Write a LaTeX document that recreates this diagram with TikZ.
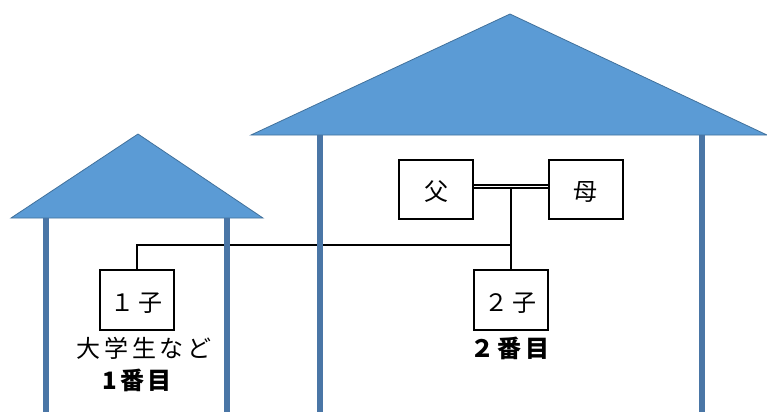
\documentclass[tikz,border=0pt]{standalone}
\usepackage{fontspec}
\setmainfont[LetterSpace=15]{Noto Sans CJK JP}
\usetikzlibrary{positioning}
\definecolor{roofblue}{HTML}{5B9BD5}
\definecolor{roofedge}{HTML}{41719C}
\definecolor{postblue}{HTML}{4A76A6}
\tikzset{person/.style = {draw, line width=1.5pt, minimum width=55.5pt, minimum height=44.5pt, inner sep=0pt, text height=18.5pt, text depth=1.4pt, font=\fontsize{18pt}{20pt}\selectfont}}
\tikzset{caption/.style = {inner sep=0pt, font=\fontsize{18pt}{20pt}\selectfont}}
\tikzset{rank/.style = {inner sep=0pt, font=\fontsize{18pt}{20pt}\selectfont\bfseries}}
\tikzset{roof/.style = {fill=roofblue, draw=roofedge, line width=.6pt}}
\tikzset{post/.style = {draw=postblue, line width=3.8pt}}
\tikzset{link/.style = {line width=1.5pt}}
\tikzset{couple/.style = {line width=1.1pt}}

\begin{document}
\begin{tikzpicture}[x=.75pt, y=-.75pt]
    \useasboundingbox (0,0) rectangle (767,412);

    \draw[roof] (138,134) -- (11,218) -- (263,218) -- cycle;
    \draw[roof] (510,14) -- (251,135) -- (767,135) -- cycle;

    \node[person] (father) at (436,189.5) {父};
    \node[person] (mother) at (585.5,189.5) {母};
    \node[person] (second) at (510.5,300) {２子};
    \node[person] (first)  at (136.5,300) {１子};

    \node[caption] (firstnote)  at (144,348) {大学生など};
    \node[rank] (firstrank)  at (137,380) {1番目};
    \node[rank] (secondrank) at (510,348) {２番目};

    % parents and the two children
    \coordinate (branch) at (second.north |- father.east);
    \coordinate (fork)   at (second.north |- 0,245);
    \draw[couple] ([yshift=3.4pt]father.east) -- ([yshift=3.4pt]mother.west);
    \draw[couple] ([yshift=1pt]father.east) -- ([yshift=1pt]mother.west);
    \draw[link] ([yshift=1pt]branch) -- (second.north);
    \draw[link] (fork) -| (first.north);

    \foreach \Xpos/\Ytop in {46/218, 227/218, 320/135, 702/135}
        \draw[post] (\Xpos,\Ytop) -- (\Xpos,412);
\end{tikzpicture}
\end{document}
